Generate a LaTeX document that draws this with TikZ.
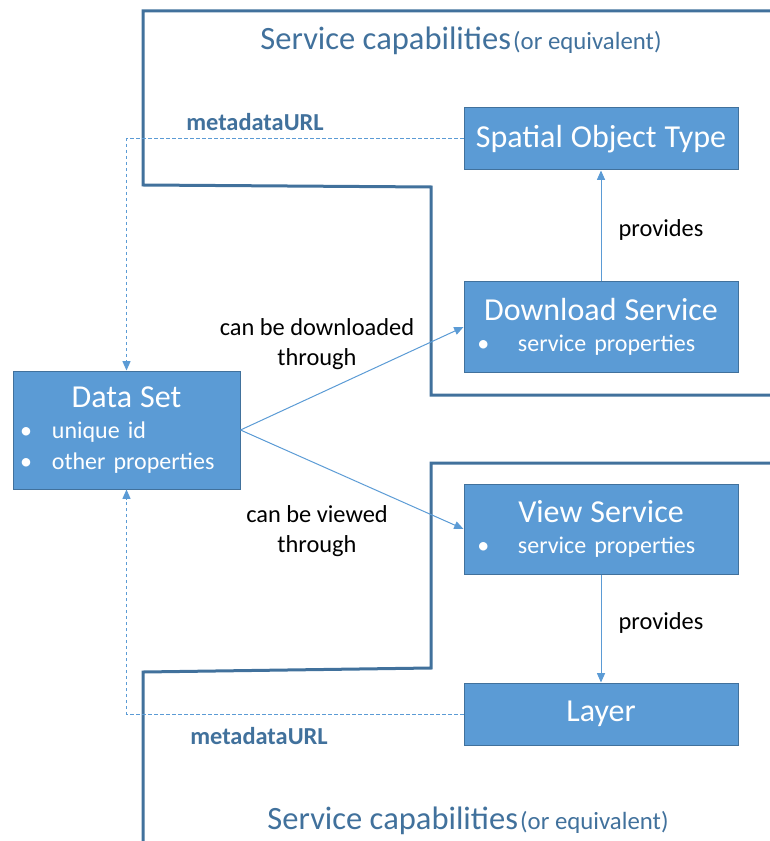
\documentclass[tikz,border=0pt]{standalone}
\usepackage{fontspec}
\setmainfont{Carlito}
\usetikzlibrary{arrows.meta}
\definecolor{boxfill}{HTML}{5B9BD5}
\definecolor{boxline}{HTML}{41719C}
\definecolor{linkblue}{HTML}{5B9BD5}
\newcommand{\titlesize}{\fontsize{24}{23}\selectfont}
\newcommand{\itemsize}{\fontsize{18}{23}\selectfont}
\newcommand{\bigcapsize}{\fontsize{24.4}{28}\selectfont}
\newcommand{\smallcapsize}{\fontsize{18.6}{22}\selectfont}
\newcommand{\bulletline}[3]{\hspace*{#1}\textbullet\hspace{#2}#3}
\tikzset{
  box/.style={rectangle, draw=boxline, fill=boxfill, line width=0.75pt, text=white,
    font=\itemsize, minimum width=205.5pt, text width=190pt, inner xsep=7.75pt, align=left},
  link/.style={draw=linkblue, line width=0.75pt, -{Triangle[length=7pt, width=6pt]}},
  metalink/.style={link, dash pattern=on 2.5pt off 2pt},
  frame/.style={draw=boxline, line width=2.25pt, line join=miter},
  lbl/.style={font=\fontsize{18.3}{23}\selectfont, align=center},
  metalbl/.style={font=\fontsize{18.3}{22}\selectfont\bfseries, text=boxline},
  caplbl/.style={text=boxline}
}
\begin{document}
\begin{tikzpicture}[x=0.75pt, y=-0.75pt]
  \useasboundingbox (0,0) rectangle (769,841);
  % Frames
  \draw[frame] (775,11) -- (143,11) -- (143,185) -- (431,187) -- (431,395) -- (775,395);
  \draw[frame] (775,463) -- (431,463) -- (431,668) -- (143,672) -- (143,850);
  \node (cap-top) [caplbl] at (461,41) {{\bigcapsize Service capabilities}\,{\smallcapsize(or equivalent)}};
  \node (cap-bottom) [caplbl] at (468,821) {{\bigcapsize Service capabilities}\,{\smallcapsize(or equivalent)}};
  % Nodes
  \node (spatial) [box, minimum height=46.5pt, align=center] at (601,139) {\titlesize Spatial Object Type};
  \node (download) [box, minimum height=67.5pt] at (601,327) {\makebox[\linewidth]{\titlesize Download Service}\\\bulletline{2.25pt}{21.5pt}{service properties}};
  \node (dataset) [box, minimum width=170.25pt, text width=154.75pt, minimum height=88.5pt] at (126.5,430) {\makebox[\linewidth]{\titlesize Data Set}\\\bulletline{-2.5pt}{15pt}{unique id}\\\bulletline{-2.5pt}{15pt}{other properties}};
  \node (view) [box, minimum height=67.5pt] at (601,529) {\makebox[\linewidth]{\titlesize View Service}\\\bulletline{2.25pt}{21.5pt}{service properties}};
  \node (layer) [box, minimum height=46.5pt, align=center] at (601,714) {\titlesize Layer};
  \node (provides-top) [lbl] at (661,230) {provides};
  \node (provides-bottom) [lbl] at (661,623) {provides};
  \node (download-lbl) [lbl] at (317,344) {can be downloaded\\through};
  \node (view-lbl) [lbl] at (317,531) {can be viewed\\through};
  \node (meta-top) [metalbl] at (255,122) {metadataURL};
  \node (meta-bottom) [metalbl] at (259,736) {metadataURL};
  % Arrow
  \draw[link] (download) -- (spatial);
  \draw[link] (view) -- (layer);
  \draw[link] (dataset.east) -- (download.west);
  \draw[link] (dataset.east) -- (view.west);
  \draw[metalink] (spatial.west) -| (dataset.north);
  \draw[metalink] (layer.west) -| (dataset.south);
\end{tikzpicture}
\end{document}
